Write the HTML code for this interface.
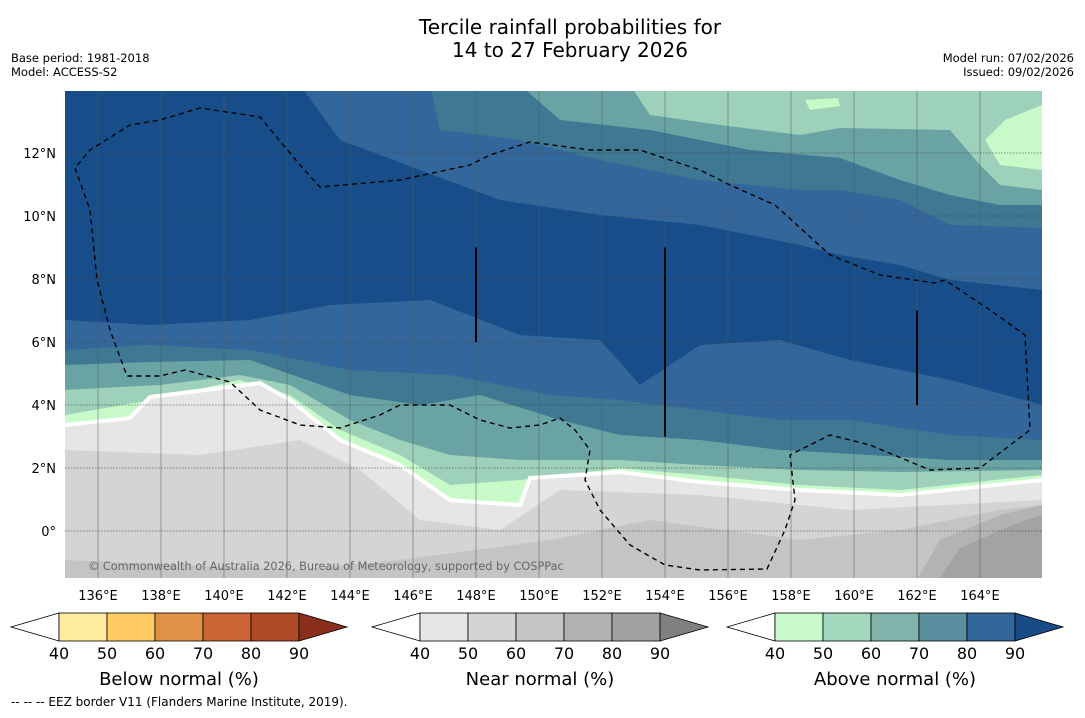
<!DOCTYPE html>
<html><head><meta charset="utf-8">
<style>
body{margin:0;background:#fff;width:1085px;height:713px;overflow:hidden;font-family:"Liberation Sans","DejaVu Sans",sans-serif;}
svg text{font-family:"DejaVu Sans","Liberation Sans",sans-serif;}
</style></head>
<body>
<svg id="chart" width="1085" height="713" xmlns="http://www.w3.org/2000/svg">
<text x="570" y="34" font-size="20" text-anchor="middle">Tercile rainfall probabilities for</text>
<text x="570" y="57" font-size="20" text-anchor="middle">14 to 27 February 2026</text>
<text x="11" y="62" font-size="11.5">Base period: 1981-2018</text>
<text x="11" y="76" font-size="11.5">Model: ACCESS-S2</text>
<text x="1074" y="62" font-size="11.5" text-anchor="end">Model run: 07/02/2026</text>
<text x="1074" y="76" font-size="11.5" text-anchor="end">Issued: 09/02/2026</text>
<defs><clipPath id="mapclip"><rect x="65" y="91" width="977" height="487"/></clipPath></defs>
<g id="map" clip-path="url(#mapclip)"></g>
<g id="bars"></g>
<text x="11" y="706" font-size="12">--  --  -- EEZ border V11 (Flanders Marine Institute, 2019).</text>
</svg>
<script>
const NS="http://www.w3.org/2000/svg";
const xOf=lon=>98+(lon-136)*31.5;
const yOf=lat=>531-lat*31.5;
const lonOfX=x=>136+(x-98)/31.5, latOfY=y=>(531-y)/31.5;
const P=(arr)=>arr.map(([x,y])=>[lonOfX(x),latOfY(y)]);
const topBands=[
 {c:"#33669a",pts:P([[65,85],[300,85],[340,140],[420,170],[500,200],[600,215],[700,225],[800,245],[840,255],[900,265],[950,280],[1042,290]])},
 {c:"#3f7893",pts:P([[430,85],[440,130],[520,140],[600,160],[700,180],[800,190],[840,190],[900,200],[950,225],[1042,228]])},
 {c:"#6aa3a3",pts:P([[520,85],[560,120],[650,130],[750,150],[840,158],[900,180],[950,195],[1000,205],[1042,205]])},
 {c:"#9ed1ba",pts:P([[630,85],[650,115],[720,125],[800,135],[840,128],[950,130],[980,165],[1000,185],[1042,190]])}
];
const botBands=[
 {c:"#33669a",pts:P([[65,320],[150,325],[250,320],[330,305],[430,300],[520,335],[600,340],[640,385],[700,345],[780,340],[850,360],[950,380],[1042,405]])},
 {c:"#3f7893",pts:P([[65,350],[150,345],[250,350],[350,370],[450,375],[550,395],[620,400],[700,410],[780,420],[850,420],[950,435],[1042,440]])},
 {c:"#6aa3a3",pts:P([[65,365],[150,362],[250,360],[350,395],[420,405],[480,395],[560,420],[620,435],[700,440],[780,450],[870,455],[950,460],[1042,460]])},
 {c:"#9ed1ba",pts:P([[65,390],[160,385],[240,375],[290,385],[350,420],[400,440],[450,455],[520,460],[620,460],[700,465],[800,470],[900,472],[1042,470]])},
 {c:"#c8fac9",pts:P([[65,415],[140,402],[240,380],[290,395],[340,430],[400,455],[450,485],[520,480],[620,468],[700,475],[800,485],[900,490],[1042,475]])},
 {c:"#e6e6e6",w:true,pts:P([[65,425],[130,418],[150,397],[260,383],[290,400],[340,440],[400,465],[450,500],[520,505],[530,478],[620,472],[700,482],[800,490],[900,495],[1042,480]])},
 {c:"#d4d4d4",pts:P([[65,450],[200,455],[300,440],[360,470],[420,520],[500,530],[560,490],[700,495],[850,510],[1042,500]])},
 {c:"#c4c4c4",pts:P([[65,560],[300,570],[400,560],[550,540],[650,520],[800,540],[900,530],[1000,510],[1042,505]])},
 {c:"#b3b3b3",pts:P([[905,600],[940,540],[1000,515],[1042,505]])},
 {c:"#a3a3a3",pts:P([[925,600],[960,548],[1020,522],[1042,515]])}
];
const greenPatches=[
 P([[805,100],[838,98],[840,106],[810,110]]),
 P([[985,140],[1005,120],[1042,105],[1042,170],[1000,165]])
];
const eez=P([[75,168],[90,210],[97,280],[110,330],[127,376],[160,376],[185,370],[230,382],[260,410],[300,425],[340,428],[380,415],[400,405],[450,405],[480,420],[510,428],[540,425],[560,418],[575,430],[590,450],[585,480],[600,510],[630,545],[665,565],[700,570],[767,569],[785,530],[795,500],[790,455],[830,435],[870,445],[930,470],[980,468],[1030,430],[1025,335],[990,310],[945,280],[935,283],[880,275],[830,255],[775,205],[730,185],[700,170],[640,150],[590,150],[530,142],[490,155],[470,165],[400,180],[320,187],[300,165],[260,117],[200,108],[160,120],[130,125],[90,150],[75,168]]);
const vlines=[[148,9,6],[154,9,3],[162,7,4]];
const lonTicks=[136,138,140,142,144,146,148,150,152,154,156,158,160,162,164];
const latTicks=[0,2,4,6,8,10,12];

const map=document.getElementById('map');
function add(parent,tag,attrs){const e=document.createElementNS(NS,tag);for(const k in attrs)e.setAttribute(k,attrs[k]);parent.appendChild(e);return e;}
const pstr=pts=>pts.map(([lo,la])=>xOf(lo).toFixed(1)+","+yOf(la).toFixed(1)).join(" ");
let bg=add(map,'rect',{x:65,y:91,width:977,height:487,fill:"#174e8a"});


topBands.forEach((b,i)=>{
 const pts=[[b.pts[0][0],latOfY(80)],...b.pts,[lonOfX(1050),b.pts[b.pts.length-1][1]],[lonOfX(1050),latOfY(80)]];
 const e=add(map,'polygon',{points:pstr(pts),fill:b.c});
 
 
});
greenPatches.forEach((g,i)=>{
 const e=add(map,'polygon',{points:pstr(g),fill:"#c8fac9"});
 
 
});
botBands.forEach((b,i)=>{
 const last=b.pts[b.pts.length-1];
 const pts=[[lonOfX(60),b.pts[0][1]],...b.pts,[lonOfX(1050),last[1]],[lonOfX(1050),latOfY(600)],[lonOfX(60),latOfY(600)]];
 const e=add(map,'polygon',{points:pstr(pts),fill:b.c,stroke:b.w?"#fff":"none","stroke-width":b.w?4:0});
 
 
});
lonTicks.forEach(l=>{
 const e=add(map,'line',{x1:xOf(l),x2:xOf(l),y1:91,y2:578,stroke:"#555",'stroke-opacity':0.5,'stroke-width':1});
 
 
});
latTicks.forEach(l=>{
 const e=add(map,'line',{x1:65,x2:1042,y1:yOf(l),y2:yOf(l),stroke:"#444",'stroke-opacity':0.6,'stroke-dasharray':"1.5,1.5"});
 
 
});
vlines.forEach(([lo,a,b])=>{
 const e=add(map,'line',{x1:xOf(lo),x2:xOf(lo),y1:yOf(a),y2:yOf(b),stroke:"#000",'stroke-width':2});
 
 
});
const ez=add(map,'polyline',{points:pstr(eez),fill:"none",stroke:"#000",'stroke-width':1.4,'stroke-dasharray':"5,4"});


const cp=add(map,'text',{x:88,y:570,'font-size':11.3,fill:"#666"});
cp.textContent="© Commonwealth of Australia 2026, Bureau of Meteorology, supported by COSPPac";


const svg=document.getElementById('chart');
lonTicks.forEach(l=>{
 const t=add(svg,'text',{x:xOf(l),y:600,'font-size':13,'text-anchor':'middle'});
 t.textContent=l+"°E";
 
 
});
latTicks.forEach(l=>{
 const t=add(svg,'text',{x:56,y:yOf(l)+5,'font-size':13,'text-anchor':'end'});
 t.textContent=l===0?"0°":l+"°N";
 
 
});
const cbTicks=["40","50","60","70","80","90"];
const cbDefs=[
 {x0:59,title:"Below normal (%)",cols:["#feed9f","#fecb62","#e09145","#cc6332","#ae4a24"],arrow:"#8c2e1d"},
 {x0:420,title:"Near normal (%)",cols:["#e6e6e6","#d4d4d4","#c4c4c4","#b2b2b2","#a2a2a2"],arrow:"#808080"},
 {x0:775,title:"Above normal (%)",cols:["#c7f9cc","#a3d8bf","#7fb4aa","#5a8fa0","#336699"],arrow:"#174c87"}
];
const bars=document.getElementById('bars');
cbDefs.forEach((d,k)=>{
 const g=add(bars,'g',{});
 
 
 const y0=613,h=28,w=48;
 const lt=add(g,'polygon',{points:`${d.x0},${y0} ${d.x0-48},${y0+h/2} ${d.x0},${y0+h}`,fill:"#fff",stroke:"#000",'stroke-width':0.8});
 
 
 d.cols.forEach((c,i)=>{
  const r=add(g,'rect',{x:d.x0+i*w,y:y0,width:w,height:h,fill:c,stroke:"#000",'stroke-width':0.8});
  
  
 });
 const x1=d.x0+5*w;
 const rt=add(g,'polygon',{points:`${x1},${y0} ${x1+48},${y0+h/2} ${x1},${y0+h}`,fill:d.arrow,stroke:"#000",'stroke-width':0.8});
 
 
 cbTicks.forEach((t,i)=>{
  const tx=add(g,'text',{x:d.x0+i*w,y:659,'font-size':16,'text-anchor':'middle'});
  tx.textContent=t;
  
  
 });
 const tt=add(g,'text',{x:d.x0+120,y:685,'font-size':18,'text-anchor':'middle'});
 tt.textContent=d.title;
 
 
});
</script>
</body></html>
